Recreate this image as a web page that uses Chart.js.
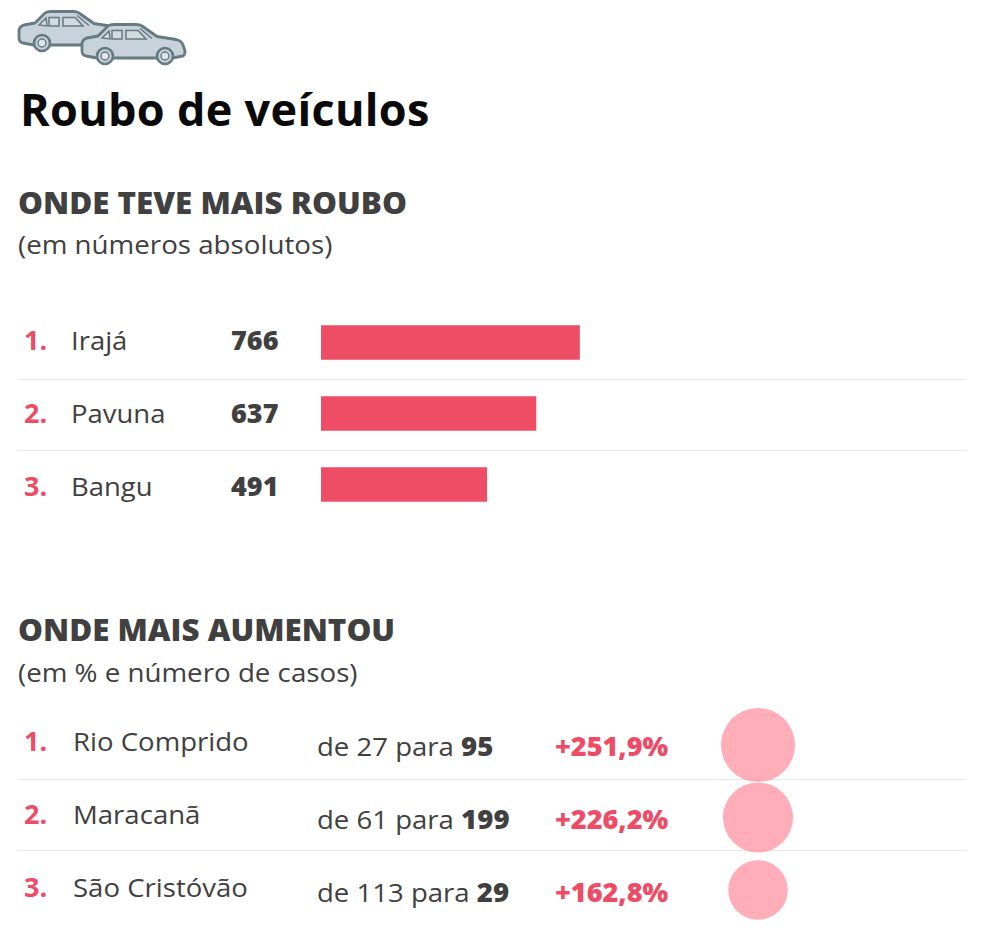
<!DOCTYPE html>
<html lang="pt-BR"><head><meta charset="utf-8">
<script src="https://cdn.jsdelivr.net/npm/chart.js@4/dist/chart.umd.min.js"></script>
<style>
html,body{margin:0;padding:0;background:#fff;width:984px;height:941px;overflow:hidden}
body{position:relative;font-family:"Open Sans",sans-serif;color:#404040}
.t{position:absolute;white-space:nowrap;line-height:60px;transform-origin:0 50%}
.r{position:absolute;height:1px;left:18px;width:948px;background:#e4e7e8}
canvas{position:absolute}
#bars{left:320.5px;top:307px}
#dots{left:698px;top:700px}
svg{position:absolute;left:0;top:0}
</style></head><body>
<svg width="200" height="70" viewBox="0 0 200 70">
<defs><g id="car">
<path d="M82 43Q83 39 87 38L98 36L108 26Q110 24.500 114 24.500L136 24.500Q140 24.500 142 26L157 36.500L176 39.500Q182 41 183 45L185 51Q185 55 183 56L172 58L97 58L86 56Q82 55 82 51Z" fill="#c8d2da" stroke="#667a82" stroke-width="2.8" stroke-linejoin="round"/>
<path d="M102 38L109 31L110 39ZM112 30.500H122V39H112ZM126 30.500H138L146 39H126Z" fill="#d3dbe1" stroke="#667a82" stroke-width="1.5"/>
<path d="M140 28.500L152 38.500" fill="none" stroke="#667a82" stroke-width="1.5"/>
<circle cx="105" cy="56" r="8" fill="#c8d2da" stroke="#667a82" stroke-width="2.6"/><circle cx="105" cy="56" r="4" fill="#dfe4e8" stroke="#667a82" stroke-width="1.4"/>
<circle cx="165" cy="56" r="8" fill="#c8d2da" stroke="#667a82" stroke-width="2.6"/><circle cx="165" cy="56" r="4" fill="#dfe4e8" stroke="#667a82" stroke-width="1.4"/>
</g></defs>
<use href="#car" x="-63" y="-13"/><use href="#car"/>
</svg>
<canvas id="bars"></canvas>
<canvas id="dots"></canvas>
<script>
const titleText = "Roubo de veículos";
const sectionTitles = ["ONDE TEVE MAIS ROUBO", "ONDE MAIS AUMENTOU"];
const sectionNotes = ["(em números absolutos)", "(em % e número de casos)"];
const ranks = ["1.", "2.", "3."];
const topPlaces = ["Irajá", "Pavuna", "Bangu"];
const topCases = [766, 637, 491];
const risePlaces = ["Rio Comprido", "Maracanã", "São Cristóvão"];
const riseFrom = [27, 61, 113];
const riseTo = [95, 199, 29];
const risePercent = [251.9, 226.2, 162.8];

const RED = "#ee4b66";
function text(str, x, base, size, opts = {}) {
  const d = document.createElement("div");
  d.className = "t";
  d.style.left = x + "px";
  d.style.top = (base - .388 * size - 30) + "px";
  d.style.fontSize = size + "px";
  d.style.fontWeight = opts.w || 400;
  d.style.color = opts.c || "#404040";
  if (opts.ls) d.style.letterSpacing = opts.ls + "px";
  if (opts.sx) d.style.transform = `scaleX(${opts.sx})`;
  if (opts.html) d.innerHTML = str; else d.textContent = str;
  document.body.appendChild(d);
}
function rule(y) {
  const d = document.createElement("div");
  d.className = "r"; d.style.top = y + "px";
  document.body.insertBefore(d, document.body.firstChild);
}
text(titleText, 20, 126, 45, {w:700, c:"#0a0a0a", ls:.3});
text(sectionTitles[0], 18, 215, 30, {w:800, sx:1.046});
text(sectionNotes[0], 18, 254, 26, {sx:1.066});
text(sectionTitles[1], 18, 642, 30, {w:800, sx:1.045});
text(sectionNotes[1], 18, 682, 26, {sx:1.066});
[379, 450, 779, 850].forEach(rule);

const topBase = [350, 423, 496];
ranks.forEach((r, i) => {
  text(r, 24, topBase[i], 27, {w:700, c:RED});
  text(topPlaces[i], 71, topBase[i], 26, {sx:1.056});
  text(String(topCases[i]), 231, topBase[i], 27, {w:800});
});
const nameBase = [751, 824, 897], deBase = [756, 829, 902];
ranks.forEach((r, i) => {
  text(r, 24, nameBase[i], 27, {w:700, c:RED});
  text(risePlaces[i], 73, nameBase[i], 26, {sx:1.06});
  text(`de ${riseFrom[i]} para <b style="font-weight:800">${riseTo[i]}</b>`, 317, deBase[i], 26, {html:true, sx:1.06});
  text("+" + risePercent[i].toFixed(1).replace(".", ",") + "%", 555, deBase[i], 26, {w:800, c:RED, sx:1.04});
});

const base = {responsive:false, animation:false, devicePixelRatio:1,
  plugins:{legend:{display:false}, tooltip:{enabled:false}}};
const barsEl = document.getElementById("bars");
barsEl.width = 300; barsEl.height = 213;
new Chart(barsEl, {
  type:"bar",
  data:{labels:topPlaces, datasets:[{data:topCases, backgroundColor:"#ef4d66", barThickness:34, borderWidth:0}]},
  options:{...base, indexAxis:"y",
    scales:{x:{display:false, min:0, max:889}, y:{display:false}}}
});
const dotsEl = document.getElementById("dots");
dotsEl.width = 120; dotsEl.height = 230;
new Chart(dotsEl, {
  type:"bubble",
  data:{datasets:[{
    data:risePercent.map((v, i) => ({x:0, y:i + 1, v})),
    backgroundColor:"rgba(255,130,148,.66)", borderWidth:0,
    radius:c => 2.331 * Math.sqrt(c.raw.v), clip:false
  }]},
  options:{...base, layout:{autoPadding:false, padding:{top:8.75, bottom:3.75}},
    scales:{x:{display:false, min:-1, max:1}, y:{display:false, reverse:true, min:.5, max:3.5}}}
});
</script>
</body></html>
